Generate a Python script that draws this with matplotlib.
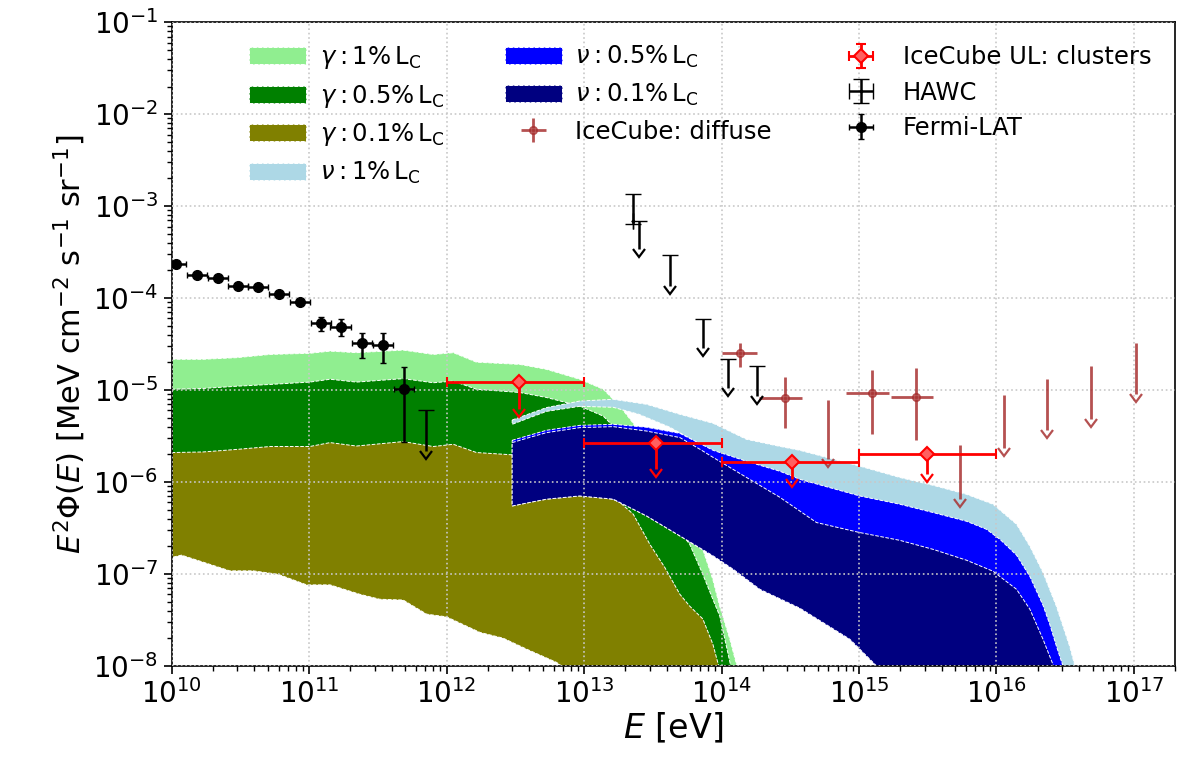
import numpy as np
import matplotlib
matplotlib.use('Agg')
import matplotlib.pyplot as plt
from matplotlib.ticker import LogLocator, NullFormatter

# ---------------- data ----------------
# Fermi-LAT
fermi_E = [1.07e10, 1.53e10, 2.17e10, 3.04e10, 4.24e10, 6.03e10, 8.57e10,
           1.22e11, 1.70e11, 2.42e11, 3.44e11, 4.89e11]
fermi_F = [2.32e-4, 1.77e-4, 1.64e-4, 1.34e-4, 1.31e-4, 1.10e-4, 8.98e-5,
           5.3e-5, 4.9e-5, 3.22e-5, 3.06e-5, 1.02e-5]
fermi_Ferr = [1.2e-5, 8e-6, 7e-6, 6e-6, 6e-6, 6e-6, 5e-6,
              9e-6, 1.0e-5, 1.0e-5, 1.1e-5, 7.5e-6]
fermi_half_bin_dex = 0.075
fermi_ul_E = [7.06e11]
fermi_ul_F = [6.03e-6]
fermi_ul_tip = [2.16e-6]

# HAWC
hawc_E = [2.28e13]
hawc_F = [6.87e-4]
hawc_F_lo = [6.41e-4]
hawc_F_hi = [1.37e-3]
hawc_ul_E = [2.52e13, 4.2e13, 7.3e13, 1.11e14, 1.80e14]
hawc_ul_F = [6.87e-4, 2.91e-4, 5.86e-5, 2.16e-5, 1.81e-5]
hawc_ul_tip = [3.38e-4, 1.37e-4, 2.84e-5, 1.05e-5, 8.55e-6]

# IceCube diffuse
ic_E = [1.37e14, 2.88e14, 1.24e15, 2.59e15]
ic_E_lo = [1.0e14, 1.87e14, 8.1e14, 1.70e15]
ic_E_hi = [1.80e14, 3.82e14, 1.64e15, 3.46e15]
ic_F = [2.55e-5, 8.13e-6, 9.2e-6, 8.47e-6]
ic_F_lo = [1.78e-5, 3.84e-6, 3.36e-6, 2.84e-6]
ic_F_hi = [3.22e-5, 1.37e-5, 1.65e-5, 1.72e-5]
ic_ul_E = [5.96e14, 5.41e15, 1.13e16, 2.35e16, 4.91e16, 1.03e17]
ic_ul_F = [7.73e-6, 2.51e-6, 8.75e-6, 1.31e-5, 1.82e-5, 3.27e-5]
ic_ul_tip = [1.77e-6, 6.5e-7, 2.32e-6, 3.67e-6, 4.8e-6, 8.97e-6]

# IceCube UL: clusters
cl_E = [3.36e12, 3.31e13, 3.27e14, 3.15e15]
cl_E_lo = [1e12, 1e13, 1e14, 1e15]
cl_E_hi = [1e13, 1e14, 1e15, 1e16]
cl_F = [1.22e-5, 2.68e-6, 1.65e-6, 2.0e-6]
cl_tip = [6.17e-6, 1.40e-6, 1.09e-6, 1.21e-6]

# gamma-ray bands (upper edges on a common grid)
g_E = [1.0e10, 1.69e10, 2.97e10, 5.19e10, 1.01e11, 1.42e11, 2.21e11, 4.83e11,
       8.0e11, 1.12e12, 1.65e12, 3.41e12, 5.33e12, 9.31e12, 1.38e13, 1.82e13,
       2.28e13, 3.01e13, 3.86e13, 4.98e13, 5.87e13, 7.31e13, 8.65e13, 9.70e13,
       1.15e14, 1.29e14]
g1_hi = [2.16e-5, 2.16e-5, 2.25e-5, 2.44e-5, 2.51e-5, 2.65e-5, 2.55e-5, 2.72e-5,
         2.44e-5, 2.55e-5, 2.01e-5, 1.90e-5, 1.68e-5, 1.31e-5, 1.02e-5, 6.70e-6,
         4.35e-6, 2.0e-6, 1.07e-6, 5.3e-7, 3.3e-7, 1.85e-7, 8.7e-8, 4.46e-8,
         1.95e-8, 1.02e-8]
g05_hi = [1.02e-5, 1.04e-5, 1.10e-5, 1.15e-5, 1.22e-5, 1.31e-5, 1.22e-5, 1.33e-5,
          1.20e-5, 1.25e-5, 1.02e-5, 9.4e-6, 8.3e-6, 6.7e-6, 5.2e-6, 3.44e-6,
          2.26e-6, 1.07e-6, 5.0e-7, 2.9e-7, 2.1e-7, 9.9e-8, 5.3e-8, 3.5e-8,
          1.1e-8, 4.4e-9]
g01_hi = [2.09e-6, 2.12e-6, 2.26e-6, 2.43e-6, 2.43e-6, 2.68e-6, 2.46e-6, 2.75e-6,
          2.43e-6, 2.57e-6, 2.09e-6, 1.95e-6, 1.56e-6, 1.07e-6, 7.3e-7, 6.0e-7,
          4.46e-7, 2.1e-7, 1.18e-7, 6.0e-8, 4.46e-8, 3.24e-8, 1.72e-8, 9.1e-9,
          4.4e-9, 2.6e-9]
# lower edges
g01_lo_E = [1.0e10, 1.18e10, 2.65e10, 3.92e10, 5.96e10, 9.6e10, 1.42e11, 2.34e11,
            3.27e11, 4.83e11, 7.16e11, 1.0e12, 1.75e12, 2.58e12, 3.82e12, 6.31e12,
            9.31e12]
g01_lo = [1.51e-7, 1.60e-7, 1.08e-7, 1.08e-7, 9.9e-8, 7.6e-8, 7.6e-8, 6.0e-8,
          5.3e-8, 5.2e-8, 3.65e-8, 3.41e-8, 2.31e-8, 2.0e-8, 1.52e-8, 1.09e-8,
          7.2e-9]
g_lo_E = [1.0e10, 1.0e11, 1.0e12, 6.0e12, 3.0e13]
g05_lo = [7.5e-7, 4.0e-7, 1.8e-7, 6.0e-8, 1.0e-9]
g1_lo = [1.5e-6, 8.0e-7, 3.5e-7, 1.2e-7, 1.0e-9]

# neutrino bands
nu1_hi_E = [3.0e12, 5.33e12, 9.31e12, 1.63e13, 2.85e13, 4.98e13, 8.69e13, 1.52e14,
            2.65e14, 3.71e14, 1.01e15, 1.98e15, 3.46e15, 6.05e15, 9.44e15, 1.40e16,
            1.75e16, 2.18e16, 2.73e16, 3.41e16, 3.72e16, 4.33e16]
nu1_hi = [4.72e-6, 6.44e-6, 7.59e-6, 7.93e-6, 7.0e-6, 5.45e-6, 4.35e-6, 2.91e-6,
          2.44e-6, 2.21e-6, 1.49e-6, 1.12e-6, 9.2e-7, 7.35e-7, 5.73e-7, 3.47e-7,
          2.0e-7, 1.04e-7, 4.45e-8, 1.63e-8, 1.0e-8, 4.4e-9]
nu1_lo_E = [3.0e12, 5.33e12, 9.31e12, 1.63e13, 2.5e13, 4.2e13, 8.69e13, 2.65e14,
            1.01e15, 3.46e15, 9.44e15, 1.75e16, 2.44e16, 3.0e16]
nu1_lo = [4.24e-6, 5.86e-6, 6.65e-6, 6.49e-6, 5.45e-6, 3.94e-6, 2.16e-6, 8.3e-7,
          3.06e-7, 2.2e-7, 9.9e-8, 3.2e-8, 1.0e-8, 4.4e-9]
nu05_hi_E = [3.0e12, 5.33e12, 9.31e12, 1.63e13, 2.85e13, 4.98e13, 8.69e13, 1.52e14,
             2.65e14, 3.71e14, 1.01e15, 1.98e15, 3.46e15, 6.05e15, 8.45e15, 1.06e16,
             1.40e16, 1.75e16, 2.18e16, 2.44e16, 2.73e16, 3.05e16, 3.41e16]
nu05_hi = [2.84e-6, 3.65e-6, 4.13e-6, 4.24e-6, 3.94e-6, 3.38e-6, 2.21e-6, 1.68e-6,
           1.31e-6, 1.07e-6, 7.05e-7, 5.73e-7, 4.65e-7, 3.74e-7, 3.06e-7, 2.38e-7,
           1.60e-7, 9.4e-8, 4.57e-8, 2.84e-8, 1.64e-8, 9.9e-9, 5.6e-9]
nu01_hi_E = [3.0e12, 4.04e12, 5.33e12, 9.31e12, 1.63e13, 2.85e13, 4.98e13, 7.0e13,
             8.69e13, 1.52e14, 2.65e14, 4.91e14, 1.01e15, 1.98e15, 3.46e15, 6.05e15,
             9.44e15, 1.40e16, 1.75e16, 2.18e16, 2.60e16, 3.0e16]
nu01_hi = [2.68e-6, 3.06e-6, 3.44e-6, 3.9e-6, 4.0e-6, 3.58e-6, 3.04e-6, 2.26e-6,
           1.85e-6, 1.12e-6, 6.83e-7, 3.62e-7, 2.82e-7, 2.32e-7, 1.85e-7, 1.41e-7,
           1.07e-7, 6.8e-8, 4.13e-8, 1.95e-8, 1.0e-8, 4.4e-9]
nu_lo_E = [3.0e12, 4.04e12, 5.33e12, 9.31e12, 1.63e13, 2.85e13, 4.98e13, 8.69e13,
           1.22e14, 1.90e14, 3.71e14, 8.57e14, 1.34e15, 2.0e15]
nu01_lo = [5.48e-7, 6.0e-7, 6.5e-7, 7.05e-7, 6.5e-7, 4.27e-7, 2.59e-7, 1.57e-7,
           1.12e-7, 6.8e-8, 4.24e-8, 1.95e-8, 1.0e-8, 4.4e-9]
nu05_lo = nu01_lo

legend_labels = [r'$\gamma: 1\%\,\mathrm{L_C}$', r'$\gamma: 0.5\%\,\mathrm{L_C}$',
                 r'$\gamma: 0.1\%\,\mathrm{L_C}$', r'$\nu: 1\%\,\mathrm{L_C}$',
                 r'$\nu: 0.5\%\,\mathrm{L_C}$', r'$\nu: 0.1\%\,\mathrm{L_C}$',
                 'IceCube: diffuse', 'IceCube UL: clusters', 'HAWC', 'Fermi-LAT']

# ---------------- plotting ----------------
fig = plt.figure(figsize=(11.92, 7.68), dpi=100)
ax = fig.add_axes([0.144, 0.133, 0.842, 0.838])
ax.set_xscale('log')
ax.set_yscale('log')


def band(xu, yu, xl, yl, color, z):
    xs = list(xu) + list(xl)[::-1]
    ys = list(yu) + list(yl)[::-1]
    p = ax.fill(xs, ys, facecolor=color, edgecolor='white', linestyle='--',
                linewidth=0.7, zorder=z)
    return p[0]


def style_limits(container, color, hide_caps=False):
    for ln in container.lines[1]:
        m = ln.get_marker()
        if m in ('_', '|'):
            if hide_caps and m == '_':
                ln.set_visible(False)
            continue
        ln.set_markerfacecolor('none')
        ln.set_markeredgecolor(color)
        ln.set_markeredgewidth(1.6)
        ln.set_markersize(8)


h_g1 = band(g_E, g1_hi, g_lo_E, g1_lo, 'lightgreen', 1.0)
h_g05 = band(g_E, g05_hi, g_lo_E, g05_lo, 'green', 1.1)
h_g01 = band(g_E, g01_hi, g01_lo_E, g01_lo, 'olive', 1.2)
h_n1 = band(nu1_hi_E, nu1_hi, nu1_lo_E, nu1_lo, 'lightblue', 1.3)
h_n05 = band(nu05_hi_E, nu05_hi, nu_lo_E, nu05_lo, 'blue', 1.4)
h_n01 = band(nu01_hi_E, nu01_hi, nu_lo_E, nu01_lo, 'navy', 1.5)

# IceCube diffuse
ic_col = '#a83232'
ic_x = np.array(ic_E)
ic_y = np.array(ic_F)
h_ic = ax.errorbar(ic_x, ic_y,
                   xerr=[ic_x - np.array(ic_E_lo), np.array(ic_E_hi) - ic_x],
                   yerr=[ic_y - np.array(ic_F_lo), np.array(ic_F_hi) - ic_y],
                   fmt='o', color=ic_col, ms=5, mfc='none', mew=1.5, elinewidth=2,
                   capsize=0, alpha=0.85, zorder=4)
icu_y = np.array(ic_ul_F)
eb = ax.errorbar(ic_ul_E, icu_y, yerr=icu_y - np.array(ic_ul_tip), uplims=True,
                 fmt='none', ecolor=ic_col, color=ic_col, elinewidth=2, capsize=4,
                 alpha=0.85, zorder=4)
style_limits(eb, ic_col, hide_caps=True)

# IceCube clusters
cx = np.array(cl_E)
cy = np.array(cl_F)
h_cl = ax.errorbar(cx, cy, xerr=[cx - np.array(cl_E_lo), np.array(cl_E_hi) - cx],
                   yerr=cy - np.array(cl_tip), uplims=True,
                   fmt='D', color='red', ms=7, mfc='#ff6060', mec='red', mew=1.5,
                   elinewidth=2, capsize=3.5, zorder=5)
style_limits(h_cl, 'red')

# HAWC
hx = np.array(hawc_E)
hy = np.array(hawc_F)
h_hawc = ax.errorbar(hx, hy, xerr=[[0], [0]],
                     yerr=[hy - np.array(hawc_F_lo), np.array(hawc_F_hi) - hy],
                     fmt='.', ms=3, color='black', elinewidth=1.8, capsize=6, zorder=5)
huy = np.array(hawc_ul_F)
eb = ax.errorbar(hawc_ul_E, huy, yerr=huy - np.array(hawc_ul_tip), uplims=True,
                 fmt='none', ecolor='black', color='black', elinewidth=1.8,
                 capsize=6, zorder=5)
style_limits(eb, 'black')

# Fermi-LAT
fx = np.array(fermi_E)
fy = np.array(fermi_F)
fxerr = [fx * (1 - 10 ** (-fermi_half_bin_dex)), fx * (10 ** fermi_half_bin_dex - 1)]
h_fermi = ax.errorbar(fx, fy, xerr=fxerr, yerr=fermi_Ferr, fmt='o', color='black',
                      ms=7, mfc='black', mec='black', elinewidth=1.8, capsize=2.5,
                      zorder=6)
fuy = np.array(fermi_ul_F)
eb = ax.errorbar(fermi_ul_E, fuy, yerr=fuy - np.array(fermi_ul_tip), uplims=True,
                 fmt='none', ecolor='black', color='black', elinewidth=1.8,
                 capsize=6, zorder=6)
style_limits(eb, 'black')

# axes
ax.set_xlim(1e10, 2e17)
ax.set_ylim(1e-8, 1e-1)
ax.xaxis.set_major_locator(LogLocator(base=10, numticks=20))
ax.yaxis.set_major_locator(LogLocator(base=10, numticks=20))
ax.xaxis.set_minor_locator(LogLocator(base=10, subs=np.arange(2, 10), numticks=40))
ax.yaxis.set_minor_locator(LogLocator(base=10, subs=np.arange(2, 10), numticks=40))
ax.xaxis.set_minor_formatter(NullFormatter())
ax.yaxis.set_minor_formatter(NullFormatter())
ax.tick_params(which='major', labelsize=20, length=6, width=1.2)
ax.tick_params(which='minor', length=3.5, width=1)
ax.set_axisbelow(False)
ax.grid(True, which='major', linestyle=':', color='#c8c8c8', linewidth=1.2)
for s in ax.spines.values():
    s.set_linewidth(1.2)

ax.set_xlabel(r'$E$ [eV]', fontsize=24, labelpad=2)
ax.set_ylabel(r'$E^2\Phi(E)$ [MeV cm$^{-2}$ s$^{-1}$ sr$^{-1}$]', fontsize=22)

handles = [h_g1, h_g05, h_g01, h_n1, h_n05, h_n01, h_ic, h_cl, h_hawc, h_fermi]
ax.legend(handles, legend_labels, ncol=3, loc='upper left',
          bbox_to_anchor=(0.058, 0.996), frameon=False, fontsize=17.5,
          handlelength=2.35, handleheight=0.7, labelspacing=0.47,
          handletextpad=0.55, columnspacing=2.5, borderpad=0.3)

fig.savefig('out.png', dpi=100)
